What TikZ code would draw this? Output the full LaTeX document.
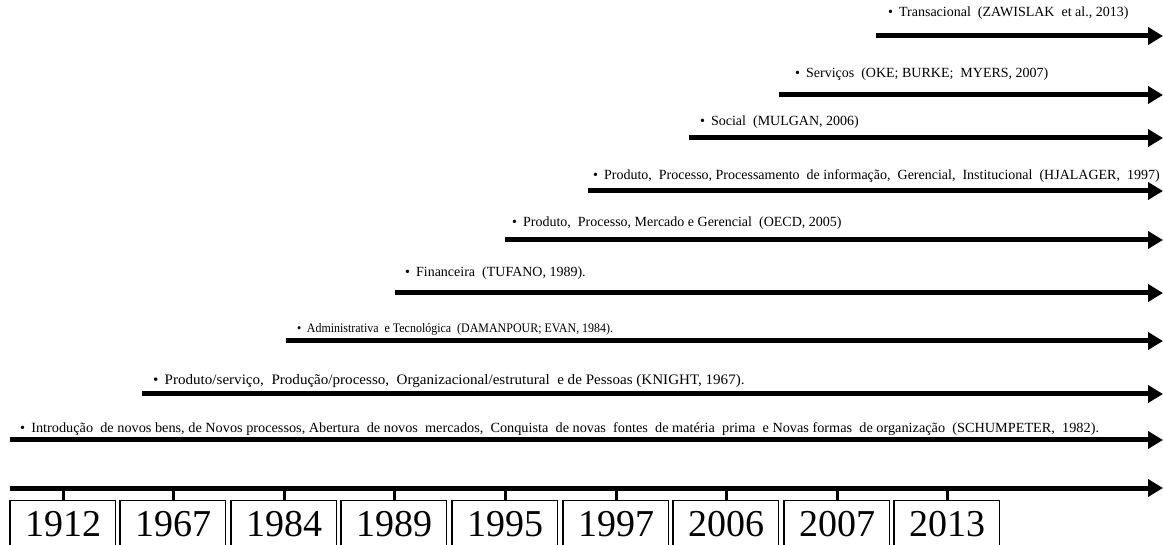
\documentclass[tikz,border=0pt]{standalone}
\usepackage{graphicx}
\usepackage{fontspec}
\setmainfont{Liberation Serif}
\usetikzlibrary{arrows.meta}
\tikzset{
  tl/.style={line width=5pt, -{Triangle[length=15pt,width=17pt]}},
  lbl/.style={anchor=base west, inner sep=0pt, font=\fontsize{14}{16}\selectfont},
  yearbox/.style={draw, line width=1pt, anchor=north west, minimum width=105pt, minimum height=47pt, inner sep=0pt, font=\fontsize{38}{40}\selectfont, text depth=0pt},
  tick/.style={line width=3pt},
  thickside/.style={line width=2.6pt}
}
\newcommand{\bul}{\textbullet\hspace{6pt}}
\begin{document}
\begin{tikzpicture}[x=1pt,y=-1pt]
\useasboundingbox (0,0) rectangle (1163,545);
% arrows
\foreach \n/\xs/\yy in {r1/876/36, r2/779/95, r3/689/138, r4/588/191, r5/505/240, r6/395/293, r7/286/341, r8/142/394, r9/10/440, ax/10/488}{
  \coordinate (\n s) at (\xs,\yy);
  \coordinate (\n e) at (1163,\yy);
  \draw[tl] (\n s) -- (\n e);
}
% labels
\node[lbl] (t1) at (888,17) {\bul Transacional \ (ZAWISLAK \ et al., 2013)};
\node[lbl] (t2) at (795,78) {\bul Serviços \ (OKE; BURKE; \ MYERS, 2007)};
\node[lbl] (t3) at (700,126) {\bul Social \ (MULGAN, 2006)};
\node[lbl] (t4) at (593,180) {\bul Produto, \ Processo, Processamento \ de informação, \ Gerencial, \ Institucional \ (HJALAGER, \ 1997)};
\node[lbl] (t5) at (512,227) {\bul Produto, \ Processo, Mercado e Gerencial \ (OECD, 2005)};
\node[lbl] (t6) at (405,277) {\bul Financeira \ (TUFANO, 1989).};
\node[lbl, font=\fontsize{13}{15}\selectfont] (t7) at (297,333) {\scalebox{0.92}[1]{\bul Administrativa \ e Tecnológica \ (DAMANPOUR; EVAN, 1984).}};
\node[lbl, font=\fontsize{14.5}{16}\selectfont] (t8) at (153,385) {\scalebox{1.04}[1]{\bul Produto/serviço, \ Produção/processo, \ Organizacional/estrutural \ e de Pessoas (KNIGHT, 1967).}};
\node[lbl] (t9) at (20,432) {\scalebox{1.02}[1]{\bul Introdução \ de novos bens, de Novos processos, Abertura \ de novos \ mercados, \ Conquista \ de novas \ fontes \ de matéria \ prima \ e Novas formas \ de organização \ (SCHUMPETER, \ 1982).}};
% year boxes
\foreach \n/\xl/\yr in {y1/10/1912, y2/120/1967, y3/231/1984, y4/341/1989, y5/452/1995, y6/563/1997, y7/673/2006, y8/784/2007, y9/894/2013}{
  \node[yearbox] (\n) at (\xl,500) {\yr};
  \draw[thickside] (\n.north west) -- (\n.south west);
  \draw[tick] (\n.north) -- (\n.north |- axs);
}
\end{tikzpicture}
\end{document}
